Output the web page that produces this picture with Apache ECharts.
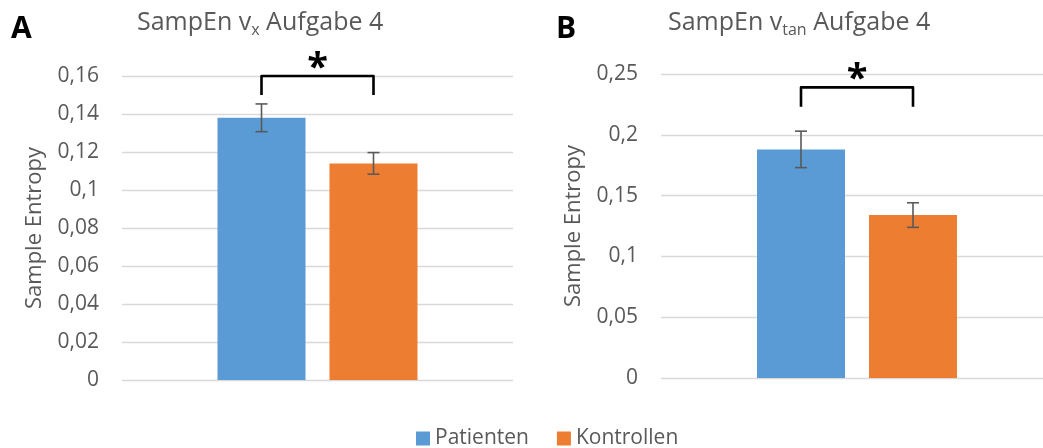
<!DOCTYPE html>
<html><head><meta charset="utf-8">
<script src="https://cdn.jsdelivr.net/npm/echarts@6/dist/echarts.min.js"></script>
<style>html,body{margin:0;padding:0;background:#fff}#c{width:1043px;height:448px}</style>
</head><body><div id="c"></div>
<script>
const categories = [''];
const groups = ['Patienten', 'Kontrollen'];
const meanA = [0.138, 0.114];
const errA = [0.0073, 0.0057];
const meanB = [0.188, 0.134];
const errB = [0.015, 0.0101];
const yMaxA = 0.16, stepA = 0.02;
const yMaxB = 0.25, stepB = 0.05;
const bracketA = [0.150, 0.160];
const bracketB = [0.223, 0.239];
const colors = ['#5B9BD5', '#ED7D31'];

const FONT = '"Open Sans", sans-serif';
const GREY = '#595959';
const BAR_W = 88, BAR_GAP = 24, HALF = (BAR_W + BAR_GAP) / 2;

const chart = echarts.init(document.getElementById('c'), null, {renderer: 'canvas'});

function yAxis(gi, max, step) {
  return {
    type: 'value', gridIndex: gi, min: 0, max: max, interval: step,
    name: 'Sample Entropy', nameLocation: 'middle', nameGap: 76, nameRotate: 90,
    nameTextStyle: {fontFamily: FONT, fontSize: 22, color: GREY},
    axisLine: {show: false}, axisTick: {show: false},
    axisLabel: {margin: 23, fontFamily: FONT, fontSize: 21, color: GREY,
      formatter: v => String(+v.toFixed(4)).replace('.', ',')},
    splitLine: {lineStyle: {color: '#d9d9d9', width: 1.3}}
  };
}
function xAxis(gi) {
  return {type: 'category', gridIndex: gi, data: categories,
    axisLine: {show: false}, axisTick: {show: false}, axisLabel: {show: false}};
}
function barSeries(gi, means) {
  return groups.map((g, i) => ({
    type: 'bar', name: g, xAxisIndex: gi, yAxisIndex: gi,
    barWidth: BAR_W, barGap: (BAR_GAP / BAR_W * 100) + '%',
    itemStyle: {color: colors[i]},
    data: [means[i]], z: 2
  }));
}
function errSeries(gi, means, errs) {
  return {
    type: 'custom', xAxisIndex: gi, yAxisIndex: gi, z: 5, silent: true,
    data: groups.map((g, i) => [0, means[i], errs[i], i]),
    renderItem: function (params, api) {
      const i = api.value(3);
      const m = api.value(1), e = api.value(2);
      const p1 = api.coord([0, m + e]), p2 = api.coord([0, m - e]);
      const x = p1[0] + (i === 0 ? -HALF : HALF);
      const st = {stroke: GREY, lineWidth: 1.6};
      return {type: 'group', children: [
        {type: 'line', shape: {x1: x, y1: p1[1], x2: x, y2: p2[1]}, style: st},
        {type: 'line', shape: {x1: x - 6, y1: p1[1], x2: x + 6, y2: p1[1]}, style: st},
        {type: 'line', shape: {x1: x - 6, y1: p2[1], x2: x + 6, y2: p2[1]}, style: st}
      ]};
    }
  };
}
function bracketSeries(gi, br) {
  return {
    type: 'custom', xAxisIndex: gi, yAxisIndex: gi, z: 6, silent: true, clip: false,
    data: [[0, br[0], br[1]]],
    renderItem: function (params, api) {
      const lo = api.coord([0, api.value(1)]), hi = api.coord([0, api.value(2)]);
      const cx = lo[0];
      return {type: 'group', children: [
        {type: 'polyline', shape: {points: [[cx - HALF, lo[1]], [cx - HALF, hi[1]], [cx + HALF, hi[1]], [cx + HALF, lo[1]]]},
          style: {stroke: '#000', lineWidth: 2.6, fill: null, lineJoin: 'round'}},
        {type: 'text', x: cx, y: hi[1] + 12,
          style: {text: '*', fontFamily: FONT, fontWeight: 'bold', fontSize: 38, fill: '#000',
            align: 'center', verticalAlign: 'bottom'}}
      ]};
    }
  };
}

const richTitle = {
  m: {fontFamily: FONT, fontSize: 25, fontWeight: 'normal', color: GREY, lineHeight: 30, verticalAlign: 'middle'},
  s: {fontFamily: FONT, fontSize: 16, fontWeight: 'normal', color: GREY, lineHeight: 16, verticalAlign: 'bottom'}
};

chart.setOption({
  animation: false,
  textStyle: {fontFamily: FONT},
  title: [
    {text: '{m|SampEn v}{s|x}{m| Aufgabe 4}', left: 137, top: 8, padding: 0, textStyle: {fontWeight: 'normal', rich: richTitle}},
    {text: '{m|SampEn v}{s|tan}{m| Aufgabe 4}', left: 668, top: 8, padding: 0, textStyle: {fontWeight: 'normal', rich: richTitle}},
    {text: 'A', left: 11, top: 14, padding: 0, textStyle: {fontFamily: FONT, fontWeight: 'bold', fontSize: 30, color: '#000'}},
    {text: 'B', left: 556, top: 14, padding: 0, textStyle: {fontFamily: FONT, fontWeight: 'bold', fontSize: 30, color: '#000'}}
  ],
  legend: {
    data: groups, left: 416, top: 428, padding: 0, icon: 'rect', itemWidth: 14, itemHeight: 14, itemGap: 28,
    textStyle: {fontFamily: FONT, fontSize: 21, color: GREY}, selectedMode: false
  },
  grid: [
    {left: 122, right: 530, top: 76, bottom: 68, outerBoundsMode: 'none'},
    {left: 661, width: 392, top: 74, bottom: 70, outerBoundsMode: 'none'}
  ],
  xAxis: [xAxis(0), xAxis(1)],
  yAxis: [yAxis(0, yMaxA, stepA), yAxis(1, yMaxB, stepB)],
  series: [
    ...barSeries(0, meanA), ...barSeries(1, meanB),
    errSeries(0, meanA, errA), errSeries(1, meanB, errB),
    bracketSeries(0, bracketA), bracketSeries(1, bracketB)
  ]
});
</script></body></html>
